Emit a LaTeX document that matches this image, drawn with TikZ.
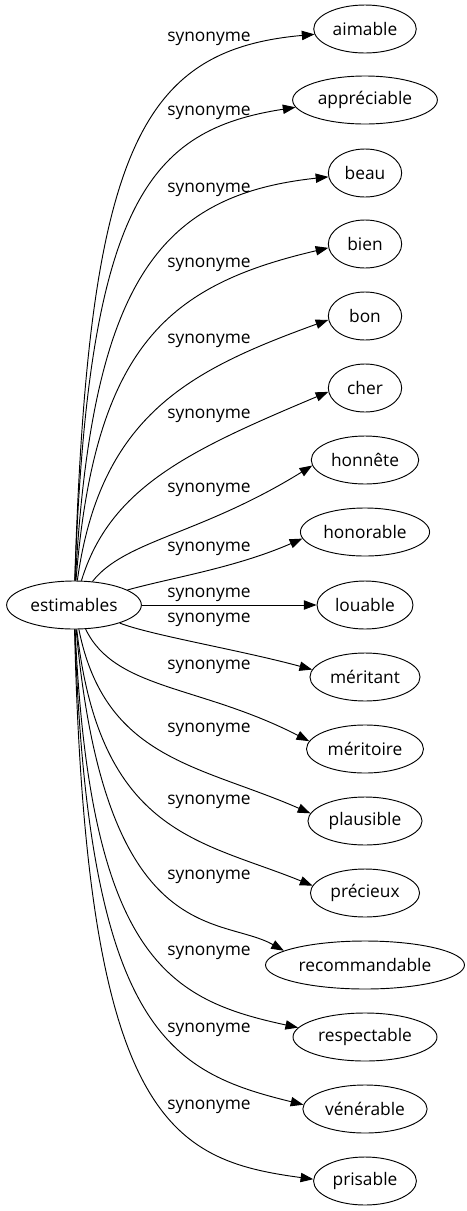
\documentclass[tikz,border=0pt]{standalone}
\usepackage{fontspec}
\setmainfont{Open Sans}
\usetikzlibrary{arrows.meta, shapes.geometric}

\begin{document}
\begin{tikzpicture}[x=0.75pt, y=-0.75pt]
        \tikzset{ wd/.style ={draw=black, ellipse, line width=0.7pt, inner xsep=3pt, inner ysep=0pt, minimum width=55pt, minimum height=36pt, text=black, font=\fontsize{13}{15}\selectfont } }
        \tikzset{ rel/.style ={inner sep=0pt, text=black, font=\fontsize{13}{15}\selectfont } }

        \tikzstyle{lnk}=[-{Triangle[length=9.5pt, width=7pt]}, line width=0.7pt, black]

        \newcommand\lft{74}
        \newcommand\ctr{209}
        \newcommand\rth{365}

        \useasboundingbox (0,0) rectangle (467,1211);

        \node[wd] (est) at (\lft, 605) {estimables};

        \node[wd] (w0) at (\rth, 29) {aimable};
        \node[wd] (w1) at (\rth, 100) {appréciable};
        \node[wd] (w2) at (\rth, 173) {beau};
        \node[wd] (w3) at (\rth, 244) {bien};
        \node[wd] (w4) at (\rth, 316) {bon};
        \node[wd] (w5) at (\rth, 388) {cher};
        \node[wd] (w6) at (\rth, 460) {honnête};
        \node[wd] (w7) at (\rth, 532) {honorable};
        \node[wd] (w8) at (\rth, 605) {louable};
        \node[wd] (w9) at (\rth, 677) {méritant};
        \node[wd] (w10) at (\rth, 749) {méritoire};
        \node[wd] (w11) at (\rth, 821) {plausible};
        \node[wd] (w12) at (\rth, 893) {précieux};
        \node[wd] (w13) at (\rth, 965) {recommandable};
        \node[wd] (w14) at (\rth, 1037) {respectable};
        \node[wd] (w15) at (\rth, 1109) {vénérable};
        \node[wd] (w16) at (\rth, 1181) {prisable};

        \node[rel] (l0) at (\ctr, 39) {synonyme};
        \node[rel] (l1) at (\ctr, 113) {synonyme};
        \node[rel] (l2) at (\ctr, 190) {synonyme};
        \node[rel] (l3) at (\ctr, 265) {synonyme};
        \node[rel] (l4) at (\ctr, 341) {synonyme};
        \node[rel] (l5) at (\ctr, 416) {synonyme};
        \node[rel] (l6) at (\ctr, 490) {synonyme};
        \node[rel] (l7) at (\ctr, 549) {synonyme};
        \node[rel] (l8) at (\ctr, 595) {synonyme};
        \node[rel] (l9) at (\ctr, 620) {synonyme};
        \node[rel] (l10) at (\ctr, 667) {synonyme};
        \node[rel] (l11) at (\ctr, 730) {synonyme};
        \node[rel] (l12) at (\ctr, 802) {synonyme};
        \node[rel] (l13) at (\ctr, 877) {synonyme};
        \node[rel] (l14) at (\ctr, 953) {synonyme};
        \node[rel] (l15) at (\ctr, 1030) {synonyme};
        \node[rel] (l16) at (\ctr, 1107) {synonyme};

        % upper fan
        \draw[lnk] (est) .. controls (88,150) and (140,50) .. (w0.186);
        \draw[lnk] (est) .. controls (88,200) and (150,130) .. (w1.186);
        \draw[lnk] (est) .. controls (92,280) and (160,195) .. (w2.186);
        \draw[lnk] (est) .. controls (95,343) and (170,285) .. (w3.186);
        \draw[lnk] (est) .. controls (100,415) and (190,370) .. (w4.186);
        \draw[lnk] (est) .. controls (110,487) and (190,450) .. (w5.186);
        \draw[lnk] (est) .. controls (125,540) and (200,535) .. (w6.186);
        \draw[lnk] (est) .. controls (170,578) and (235,568) .. (w7.186);
        \draw[lnk] (est) -- (w8);

        % lower fan
        \draw[lnk] (est) .. controls (150,635) and (240,650) .. (w9.172);
        \draw[lnk] (est) .. controls (115,690) and (200,685) .. (w10.172);
        \draw[lnk] (est) .. controls (105,760) and (200,765) .. (w11.172);
        \draw[lnk] (est) .. controls (100,835) and (200,840) .. (w12.172);
        \draw[lnk] (est) .. controls (105,950) and (220,915) .. (w13.170);
        \draw[lnk] (est) .. controls (90,960) and (170,1000) .. (w14.172);
        \draw[lnk] (est) .. controls (88,1032) and (170,1072) .. (w15.176);
        \draw[lnk] (est) .. controls (86,1120) and (170,1160) .. (w16.178);
\end{tikzpicture}
\end{document}
